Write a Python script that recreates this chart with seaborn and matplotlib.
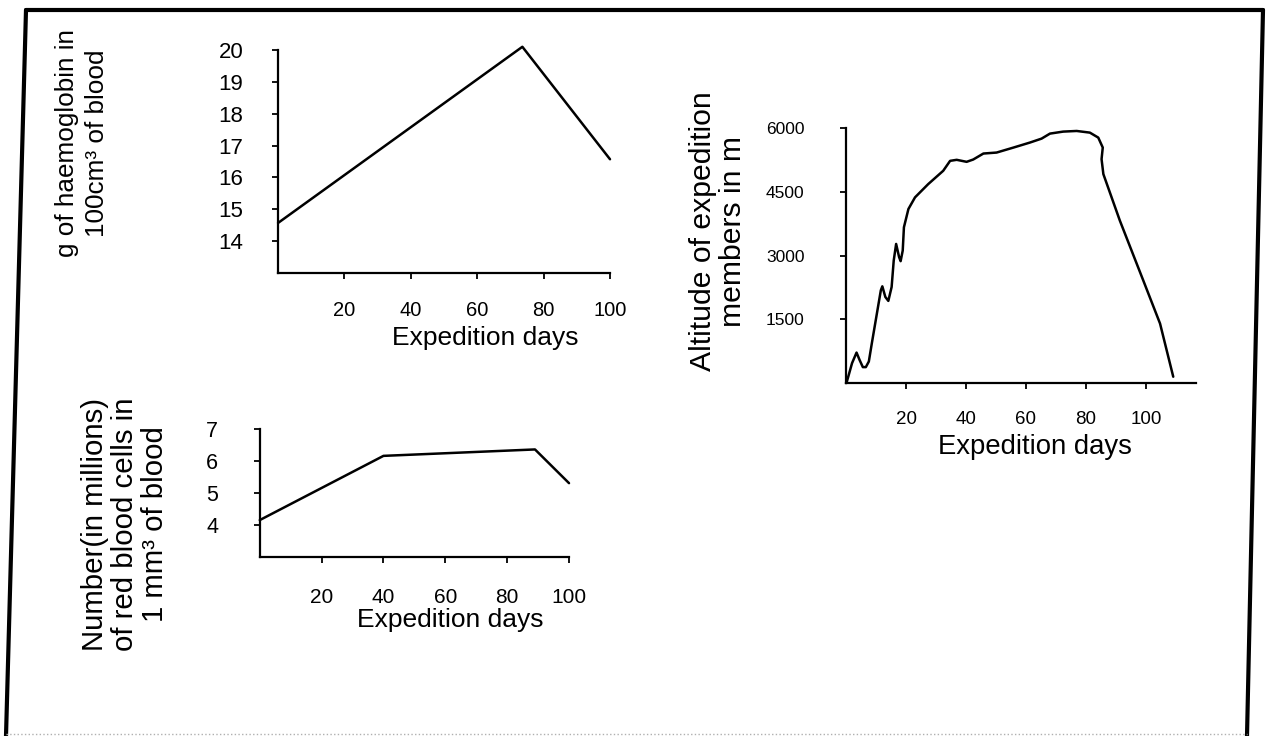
import matplotlib
matplotlib.use('Agg')
import matplotlib.pyplot as plt
import seaborn as sns
from matplotlib.lines import Line2D

# haemoglobin (g per 100 cm3 of blood) over expedition days
haemDays = [0, 73.6, 100]
haemValues = [14.57, 20.1, 16.57]

# red blood cells (millions per mm3)
rbcDays = [0, 40, 89, 100]
rbcValues = [4.15, 6.15, 6.35, 5.3]

# altitude of the expedition members (m)
altDays = [0, 0.3, 2, 3.5, 4.5, 5.6, 6.6, 7.6, 8.6, 10.1, 11.6, 12.1, 13.1,
           14.1, 15.2, 15.9, 16.7, 17.7, 18.2, 18.9, 19.3, 20.8, 23, 27.4,
           32.4, 34.7, 36.9, 40.2, 42.4, 45.8, 50.2, 55.8, 61.3, 65.2, 68,
           72.4, 76.9, 81.3, 84.1, 85.6, 85.2, 85.8, 91.3, 99.1, 104.7, 109.1]
altValues = [0, 39, 467, 716, 545, 374, 374, 506, 935, 1558, 2181, 2275, 2025,
             1932, 2259, 2882, 3272, 2960, 2867, 3116, 3664, 4094, 4368, 4680,
             4993, 5227, 5251, 5204, 5258, 5399, 5422, 5539, 5657, 5750, 5868,
             5915, 5930, 5891, 5774, 5540, 5267, 4915, 3821, 2414, 1399, 148]

dayTicks = [20, 40, 60, 80, 100]
haemTicks = [14, 15, 16, 17, 18, 19, 20]
rbcTicks = [4, 5, 6, 7]
altTicks = [1500, 3000, 4500, 6000]

sns.set_style('ticks')
plt.rcParams['font.family'] = ['Liberation Sans', 'DejaVu Sans']
plt.rcParams['text.color'] = 'black'
plt.rcParams['axes.labelcolor'] = 'black'

fig = plt.figure(figsize=(12.69, 7.36), dpi=100)

axHaem = fig.add_axes([0.2191, 0.6291, 0.2616, 0.3030])
axAlt = fig.add_axes([0.6667, 0.4796, 0.2758, 0.3465])
axRbc = fig.add_axes([0.2047, 0.2432, 0.2437, 0.1745])


def styleAxis(ax, xlim, ylim, yticks, xSize, ySize, xpad, ypad):
    ax.set_xlim(*xlim)
    ax.set_ylim(*ylim)
    ax.set_xticks(dayTicks)
    ax.set_yticks(yticks)
    for side in ['top', 'right']:
        ax.spines[side].set_visible(False)
    for side in ['left', 'bottom']:
        ax.spines[side].set_linewidth(1.6)
        ax.spines[side].set_color('black')
    ax.tick_params(axis='x', direction='out', length=4, width=1.3,
                   labelsize=xSize, pad=xpad, colors='black')
    ax.tick_params(axis='y', direction='out', length=4, width=1.3,
                   labelsize=ySize, pad=ypad, colors='black')


sns.lineplot(x=haemDays, y=haemValues, ax=axHaem, color='black',
             linewidth=1.8, estimator=None, sort=False, clip_on=False)
styleAxis(axHaem, (0, 100), (13, 20), haemTicks, 14.5, 16, 16, 21)
axHaem.set_xlabel('Expedition days', fontsize=19)
axHaem.xaxis.label.set_va('center')
axHaem.xaxis.set_label_coords(0.623, -0.291)
axHaem.set_ylabel('g of haemoglobin in\n100cm³ of blood', fontsize=18.8,
                  linespacing=1.3)
axHaem.yaxis.label.set_va('center')
axHaem.yaxis.set_label_coords(-0.59, 0.583)

sns.lineplot(x=altDays, y=altValues, ax=axAlt, color='black',
             linewidth=1.8, estimator=None, sort=False, clip_on=False)
styleAxis(axAlt, (0, 116.7), (0, 6000), altTicks, 13.5, 12.5, 16, 26)
axAlt.set_xlabel('Expedition days', fontsize=19.8)
axAlt.xaxis.label.set_va('center')
axAlt.xaxis.set_label_coords(0.54, -0.251)
axAlt.set_ylabel('Altitude of expedition\nmembers in m', fontsize=21.7,
                 linespacing=1.08)
axAlt.yaxis.label.set_va('center')
axAlt.yaxis.set_label_coords(-0.366, 0.596)

sns.lineplot(x=rbcDays, y=rbcValues, ax=axRbc, color='black',
             linewidth=1.8, estimator=None, sort=False, clip_on=False)
styleAxis(axRbc, (0, 100), (3, 7), rbcTicks, 15, 15.5, 18, 26)
axRbc.set_xlabel('Expedition days', fontsize=19)
axRbc.xaxis.label.set_va('center')
axRbc.xaxis.set_label_coords(0.615, -0.49)
axRbc.set_ylabel('Number(in millions)\nof red blood cells in\n1 mm³ of blood',
                 fontsize=21.2, linespacing=1.08)
axRbc.yaxis.label.set_va('center')
axRbc.yaxis.set_label_coords(-0.436, 0.257)

# scanned page frame
W, H = 1269.0, 736.0
frame = [((26, 10), (6, 736)), ((26, 10), (1263, 10)), ((1263, 10), (1247, 736))]
for (x0, y0), (x1, y1) in frame:
    fig.add_artist(Line2D([x0 / W, x1 / W], [1 - y0 / H, 1 - y1 / H],
                          transform=fig.transFigure, color='black', linewidth=3))
fig.add_artist(Line2D([6 / W, 1247 / W], [1 - 734 / H, 1 - 734 / H],
                      transform=fig.transFigure, color='#b0b0b0',
                      linewidth=1, linestyle=':'))

fig.savefig('out.png', dpi=100)
